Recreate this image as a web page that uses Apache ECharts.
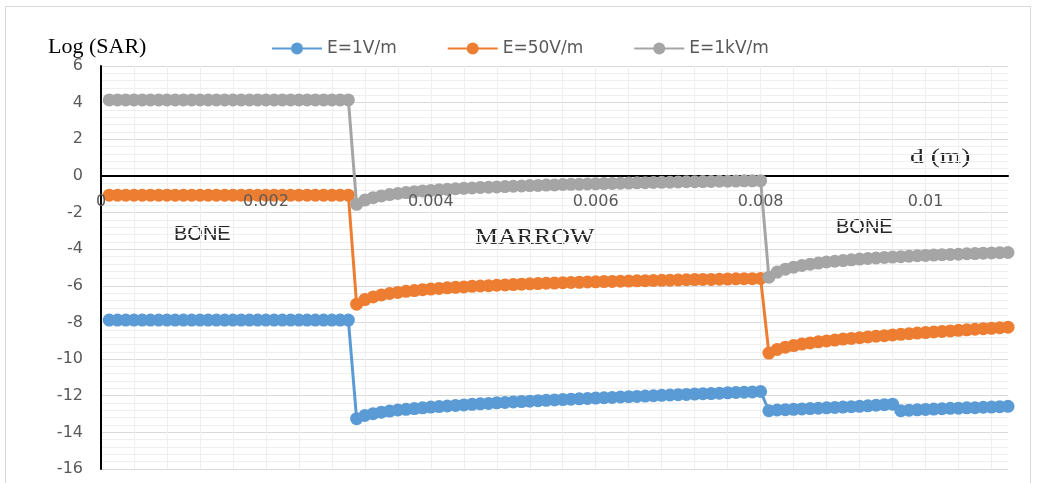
<!DOCTYPE html>
<html>
<head>
<meta charset="utf-8">
<script src="https://cdn.jsdelivr.net/npm/echarts@6/dist/echarts.min.js"></script>
<style>html,body{margin:0;padding:0;background:#fff;}#c{width:1040px;height:483px;}</style>
</head>
<body>
<div id="c"></div>
<script>
// distance d (m)
const d = [
0.0001,0.0002,0.0003,0.0004,0.0005,0.0006,0.0007,0.0008,0.0009,0.0010,
0.0011,0.0012,0.0013,0.0014,0.0015,0.0016,0.0017,0.0018,0.0019,0.0020,
0.0021,0.0022,0.0023,0.0024,0.0025,0.0026,0.0027,0.0028,0.0029,0.0030,
0.0031,0.0032,0.0033,0.0034,0.0035,0.0036,0.0037,0.0038,0.0039,0.0040,
0.0041,0.0042,0.0043,0.0044,0.0045,0.0046,0.0047,0.0048,0.0049,0.0050,
0.0051,0.0052,0.0053,0.0054,0.0055,0.0056,0.0057,0.0058,0.0059,0.0060,
0.0061,0.0062,0.0063,0.0064,0.0065,0.0066,0.0067,0.0068,0.0069,0.0070,
0.0071,0.0072,0.0073,0.0074,0.0075,0.0076,0.0077,0.0078,0.0079,0.0080,
0.0081,0.0082,0.0083,0.0084,0.0085,0.0086,0.0087,0.0088,0.0089,0.0090,
0.0091,0.0092,0.0093,0.0094,0.0095,0.0096,0.0097,0.0098,0.0099,0.0100,
0.0101,0.0102,0.0103,0.0104,0.0105,0.0106,0.0107,0.0108,0.0109,0.0110
];

// Log(SAR), E = 1 V/m
const e1 = [
-7.87,-7.87,-7.87,-7.87,-7.87,-7.87,-7.87,-7.87,-7.87,-7.87,
-7.87,-7.87,-7.87,-7.87,-7.87,-7.87,-7.87,-7.87,-7.87,-7.87,
-7.87,-7.87,-7.87,-7.87,-7.87,-7.87,-7.87,-7.87,-7.87,-7.87,
-13.25,-13.08,-12.98,-12.90,-12.84,-12.78,-12.74,-12.70,-12.66,-12.62,
-12.59,-12.56,-12.53,-12.50,-12.47,-12.44,-12.42,-12.39,-12.37,-12.34,
-12.32,-12.30,-12.27,-12.25,-12.23,-12.21,-12.19,-12.17,-12.15,-12.13,
-12.11,-12.09,-12.07,-12.05,-12.04,-12.02,-12.00,-11.98,-11.96,-11.94,
-11.93,-11.91,-11.89,-11.88,-11.86,-11.84,-11.82,-11.81,-11.79,-11.77,
-12.82,-12.78,-12.76,-12.74,-12.72,-12.70,-12.68,-12.66,-12.64,-12.62,
-12.60,-12.58,-12.55,-12.52,-12.49,-12.46,-12.82,-12.79,-12.77,-12.75,
-12.73,-12.71,-12.69,-12.68,-12.66,-12.65,-12.63,-12.62,-12.60,-12.58
];

// Log(SAR), E = 50 V/m
const e50 = [
-1.05,-1.05,-1.05,-1.05,-1.05,-1.05,-1.05,-1.05,-1.05,-1.05,
-1.05,-1.05,-1.05,-1.05,-1.05,-1.05,-1.05,-1.05,-1.05,-1.05,
-1.05,-1.05,-1.05,-1.05,-1.05,-1.05,-1.05,-1.05,-1.05,-1.05,
-7.00,-6.75,-6.61,-6.50,-6.42,-6.36,-6.30,-6.26,-6.21,-6.18,
-6.14,-6.11,-6.08,-6.06,-6.03,-6.01,-5.99,-5.97,-5.95,-5.93,
-5.91,-5.89,-5.88,-5.86,-5.85,-5.83,-5.82,-5.81,-5.79,-5.78,
-5.77,-5.76,-5.75,-5.74,-5.73,-5.72,-5.71,-5.70,-5.69,-5.68,
-5.67,-5.66,-5.65,-5.65,-5.64,-5.63,-5.62,-5.61,-5.61,-5.60,
-9.67,-9.47,-9.35,-9.26,-9.18,-9.12,-9.06,-9.01,-8.96,-8.91,
-8.87,-8.83,-8.79,-8.75,-8.72,-8.68,-8.65,-8.61,-8.58,-8.55,
-8.52,-8.49,-8.46,-8.43,-8.40,-8.37,-8.34,-8.32,-8.29,-8.26
];

// Log(SAR), E = 1 kV/m
const e1k = [
4.15,4.15,4.15,4.15,4.15,4.15,4.15,4.15,4.15,4.15,
4.15,4.15,4.15,4.15,4.15,4.15,4.15,4.15,4.15,4.15,
4.15,4.15,4.15,4.15,4.15,4.15,4.15,4.15,4.15,4.15,
-1.55,-1.32,-1.19,-1.09,-1.02,-0.96,-0.91,-0.86,-0.82,-0.79,
-0.76,-0.73,-0.70,-0.68,-0.66,-0.63,-0.62,-0.60,-0.58,-0.56,
-0.55,-0.53,-0.52,-0.50,-0.49,-0.47,-0.46,-0.45,-0.44,-0.43,
-0.42,-0.41,-0.40,-0.39,-0.38,-0.37,-0.36,-0.35,-0.34,-0.33,
-0.32,-0.32,-0.31,-0.30,-0.29,-0.29,-0.28,-0.27,-0.27,-0.26,
-5.53,-5.25,-5.09,-4.98,-4.89,-4.82,-4.76,-4.70,-4.66,-4.62,
-4.58,-4.54,-4.51,-4.48,-4.45,-4.43,-4.41,-4.38,-4.36,-4.34,
-4.32,-4.30,-4.29,-4.27,-4.25,-4.24,-4.22,-4.21,-4.19,-4.18
];

const seriesNames = ['E=1V/m', 'E=50V/m', 'E=1kV/m'];
const seriesValues = [e1, e50, e1k];
const seriesColors = ['#5B9BD5', '#ED7D31', '#A5A5A5'];
const xTicks = ['0', '0.002', '0.004', '0.006', '0.008', '0.01'];
const xMin = 0, xMax = 0.011, xStep = 0.002, xMinorStep = 0.0004;
const yMin = -16, yMax = 6, yStep = 2;

const W = 1040, H = 483;
const gridBox = {left: 101, right: 32, top: 66, bottom: 14};
const plotH = H - gridBox.top - gridBox.bottom;
// offset so that the labelled helper axis sits on the y = 0 line
const zeroOffset = -plotH * (yMax - 0) / (yMax - yMin);

const chart = echarts.init(document.getElementById('c'), null, {renderer: 'canvas'});
const tickFont = 'DejaVu Sans';
const mkGrid = z => Object.assign({z: z, containLabel: false, outerBoundsMode: 'none'}, gridBox);
const hiddenY = g => ({gridIndex: g, type: 'value', min: yMin, max: yMax, interval: yStep,
  axisLine: {show: false}, axisTick: {show: false}, axisLabel: {show: false}, splitLine: {show: false}});

chart.setOption({
  animation: false,
  backgroundColor: '#fff',
  grid: [mkGrid(2), mkGrid(0), mkGrid(20)],
  legend: {
    data: seriesNames,
    left: 266, top: 35,
    itemWidth: 50, itemHeight: 15, itemGap: 50,
    textStyle: {color: '#595959', fontSize: 17, fontFamily: tickFont}
  },
  xAxis: [{
    gridIndex: 0, type: 'value', min: xMin, max: xMax, interval: xStep,
    axisLine: {show: true, onZero: true, lineStyle: {color: '#000', width: 2}},
    axisTick: {show: false},
    axisLabel: {show: false},
    splitLine: {show: true, showMaxLine: false, lineStyle: {color: '#d9d9d9', width: 1}}
  }, {
    gridIndex: 1, type: 'value', min: xMin, max: xMax, interval: xMinorStep, z: 0,
    axisLine: {show: false}, axisTick: {show: false}, axisLabel: {show: false},
    splitLine: {show: true, showMaxLine: false, lineStyle: {color: '#efefef', width: 1}}
  }, {
    gridIndex: 2, type: 'value', min: xMin, max: xMax, interval: xStep, z: 20,
    position: 'top', offset: zeroOffset,
    axisLine: {show: false, onZero: false}, axisTick: {show: false},
    axisLabel: {show: true, inside: true, color: '#595959', fontSize: 16, fontFamily: tickFont, margin: 18,
      showMinLabel: true, showMaxLabel: false,
      formatter: function (v) { const i = Math.round(v / xStep); return Math.abs(v - i * xStep) < 1e-9 && xTicks[i] !== undefined ? xTicks[i] : ''; }},
    splitLine: {show: false}
  }],
  yAxis: [{
    gridIndex: 0, type: 'value', min: yMin, max: yMax, interval: yStep,
    axisLine: {show: true, onZero: false, lineStyle: {color: '#000', width: 2}},
    axisTick: {show: false},
    axisLabel: {color: '#595959', fontSize: 16, fontFamily: tickFont, margin: 18},
    splitLine: {lineStyle: {color: '#d9d9d9', width: 1}},
    minorTick: {show: false, splitNumber: 5},
    minorSplitLine: {show: true, lineStyle: {color: '#efefef', width: 1}}
  }, hiddenY(1), hiddenY(2)],
  series: seriesNames.map((name, s) => ({
    name: name,
    type: 'line',
    xAxisIndex: 0, yAxisIndex: 0,
    data: d.map((x, i) => [x, seriesValues[s][i]]),
    symbol: 'circle',
    symbolSize: 13,
    showSymbol: true,
    showAllSymbol: true,
    lineStyle: {color: seriesColors[s], width: 3},
    itemStyle: {color: seriesColors[s]},
    z: 5 + s
  })),
  graphic: [
    {type: 'rect', silent: true, z: -1, shape: {x: 5.5, y: 6.5, width: 1025, height: 500},
     style: {fill: 'none', stroke: '#d9d9d9', lineWidth: 1}},
    {type: 'text', silent: true, x: 48, y: 47,
     style: {text: 'Log (SAR)', font: '22px "Liberation Serif"', fill: '#000', textVerticalAlign: 'middle'}},
    {type: 'text', silent: true, x: 174, y: 234,
     style: {text: 'BONE', font: '20px "Liberation Sans"', fill: '#262626', textVerticalAlign: 'middle'}},
    {type: 'text', silent: true, x: 475, y: 238, scaleX: 1.08,
     style: {text: 'MARROW', font: '24px "Liberation Serif"', fill: '#262626', textVerticalAlign: 'middle'}},
    {type: 'text', silent: true, x: 836, y: 227,
     style: {text: 'BONE', font: '20px "Liberation Sans"', fill: '#262626', textVerticalAlign: 'middle'}},
    {type: 'text', silent: true, x: 910, y: 157, scaleX: 1.25,
     style: {text: 'd (m)', font: '22px "Liberation Serif"', fill: '#262626', textVerticalAlign: 'middle'}}
  ]
});
</script>
</body>
</html>
